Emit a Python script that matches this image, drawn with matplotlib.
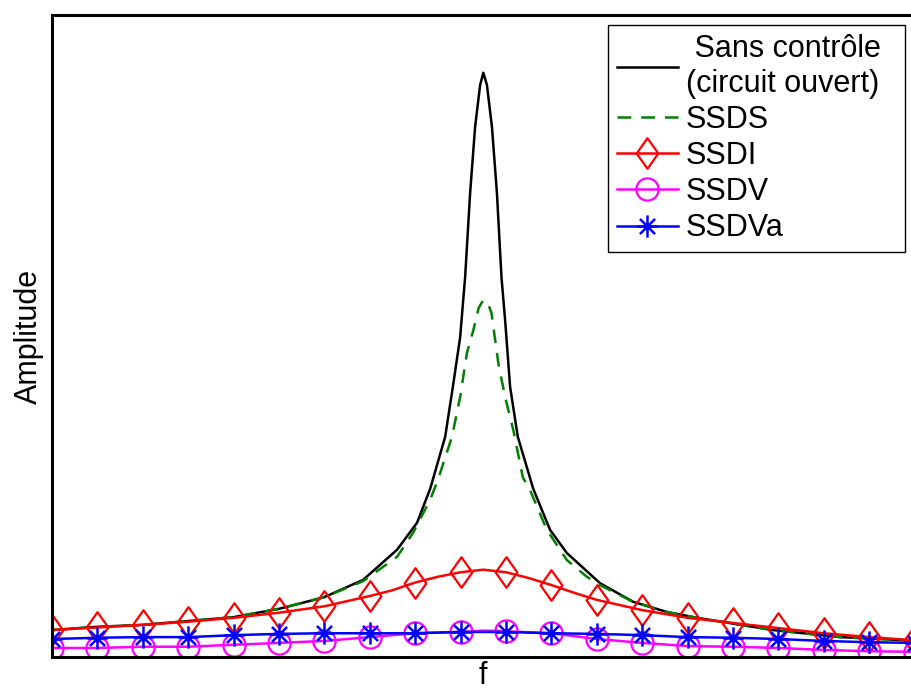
import numpy as np
import matplotlib
matplotlib.use("Agg")
import matplotlib.pyplot as plt
from matplotlib.path import Path

plt.rcParams['font.family'] = ['Liberation Sans', 'DejaVu Sans']

# Sans contrôle (circuit ouvert)
f_open = [0, 0.99, 1.98, 3.0, 3.99, 5.0, 5.99, 6.85, 7.6, 8.04, 8.33, 8.66, 8.83, 8.99,
          9.1, 9.21, 9.32, 9.43, 9.5, 9.58, 9.69, 9.8, 9.9, 9.98, 10.09, 10.26, 10.6,
          10.97, 11.34, 12.07, 12.8, 13.55, 14.21, 15.88, 17.36, 18.83, 19.0]
amp_open = [0.042, 0.047, 0.050, 0.056, 0.062, 0.075, 0.093, 0.120, 0.167, 0.209, 0.262,
            0.343, 0.421, 0.498, 0.592, 0.723, 0.826, 0.891, 0.910, 0.891, 0.826, 0.723,
            0.592, 0.525, 0.421, 0.343, 0.262, 0.198, 0.162, 0.115, 0.086, 0.070, 0.061,
            0.042, 0.031, 0.026, 0.025]

# SSDS
f_ssds = [0, 0.99, 1.98, 3.0, 3.99, 5.0, 5.99, 6.85, 7.6, 7.95, 8.33, 8.5, 8.81, 8.99,
          9.14, 9.28, 9.4, 9.5, 9.6, 9.68, 9.83, 9.98, 10.16, 10.37, 10.53, 10.9, 11.34,
          11.78, 12.07, 12.8, 13.55, 14.21, 15.88, 17.36, 18.83, 19.0]
amp_ssds = [0.042, 0.047, 0.050, 0.056, 0.062, 0.075, 0.093, 0.118, 0.156, 0.193, 0.245,
            0.276, 0.343, 0.405, 0.474, 0.509, 0.544, 0.556, 0.551, 0.536, 0.458, 0.405,
            0.354, 0.280, 0.260, 0.198, 0.151, 0.125, 0.112, 0.086, 0.070, 0.061, 0.042,
            0.031, 0.026, 0.025]

# SSDI (markers on the integer positions)
f_ssdi = [0, 1, 2, 3, 4, 5, 6, 7, 7.5, 8, 8.5, 9, 9.5, 10, 10.5, 11, 11.5, 12, 13, 14,
          15, 16, 17, 18, 19]
amp_ssdi = [0.042, 0.046, 0.050, 0.055, 0.061, 0.069, 0.079, 0.095, 0.104, 0.116, 0.125,
            0.132, 0.136, 0.132, 0.123, 0.112, 0.100, 0.089, 0.073, 0.061, 0.053, 0.045,
            0.037, 0.031, 0.026]

# SSDV
f_ssdv = [0, 1, 2, 3, 4, 5, 6, 7, 8, 9, 9.5, 10, 11, 12, 13, 14, 15, 16, 17, 18, 19]
amp_ssdv = [0.014, 0.014, 0.016, 0.016, 0.019, 0.022, 0.025, 0.031, 0.037, 0.039, 0.041,
            0.040, 0.037, 0.028, 0.022, 0.017, 0.016, 0.014, 0.011, 0.009, 0.008]

# SSDVa
f_ssdva = [0, 1, 2, 3, 4, 5, 6, 7, 8, 9, 10, 11, 12, 13, 14, 15, 16, 17, 18, 19]
amp_ssdva = [0.028, 0.030, 0.031, 0.031, 0.034, 0.036, 0.037, 0.037, 0.037, 0.039, 0.039,
             0.037, 0.036, 0.034, 0.031, 0.030, 0.028, 0.025, 0.023, 0.022]

labels = [' Sans contrôle\n(circuit ouvert)  ', 'SSDS', 'SSDI', 'SSDV', 'SSDVa']


def on_integers(x):
    return [i for i, v in enumerate(x) if float(v).is_integer()]


# MATLAB-like markers
diamond = Path([(0, 1), (0.71, 0), (0, -1), (-0.71, 0), (0, 1)],
               [Path.MOVETO, Path.LINETO, Path.LINETO, Path.LINETO, Path.CLOSEPOLY])
d = 0.68
asterisk = Path([(0, -1), (0, 1), (-0.92, 0), (0.92, 0), (-d, -d), (d, d), (-d, d), (d, -d)],
                [Path.MOVETO, Path.LINETO] * 4)

fig = plt.figure(figsize=(9.11, 6.92), dpi=100)
ax = fig.add_axes([52 / 911, 35 / 692, 19 * 45.4 / 911, 642 / 692])

lw = 1.8
ax.plot(f_open, amp_open, color='black', lw=lw, label=labels[0])
ax.plot(f_ssds, amp_ssds, color='#008000', lw=lw, dashes=(5.5, 4), label=labels[1])
ax.plot(f_ssdi, amp_ssdi, color='red', lw=lw, marker=diamond, ms=22, mfc='none',
        mew=1.6, markevery=on_integers(f_ssdi), label=labels[2])
ax.plot(f_ssdv, amp_ssdv, color='magenta', lw=lw, marker='o', ms=16, mfc='none',
        mew=1.6, markevery=on_integers(f_ssdv), label=labels[3])
ax.plot(f_ssdva, amp_ssdva, color='blue', lw=lw, marker=asterisk, ms=16, mfc='none',
        mew=1.8, label=labels[4])

ax.set_xlim(0, 19)
ax.set_ylim(0, 1)
ax.set_xticks([])
ax.set_yticks([])
for s in ax.spines.values():
    s.set_linewidth(2.2)
ax.set_xlabel('f', fontsize=22, labelpad=3)
ax.set_ylabel('Amplitude', fontsize=22, labelpad=6)

leg = ax.legend(loc='upper right', bbox_to_anchor=(905 / 911, 667 / 692),
                bbox_transform=fig.transFigure, borderaxespad=0, fontsize=22,
                numpoints=1, handlelength=2.0, handletextpad=0.25, labelspacing=0.2,
                borderpad=0.3, fancybox=False, framealpha=1, edgecolor='black')
leg.get_frame().set_linewidth(1.0)

fig.savefig('out.png', dpi=100)
